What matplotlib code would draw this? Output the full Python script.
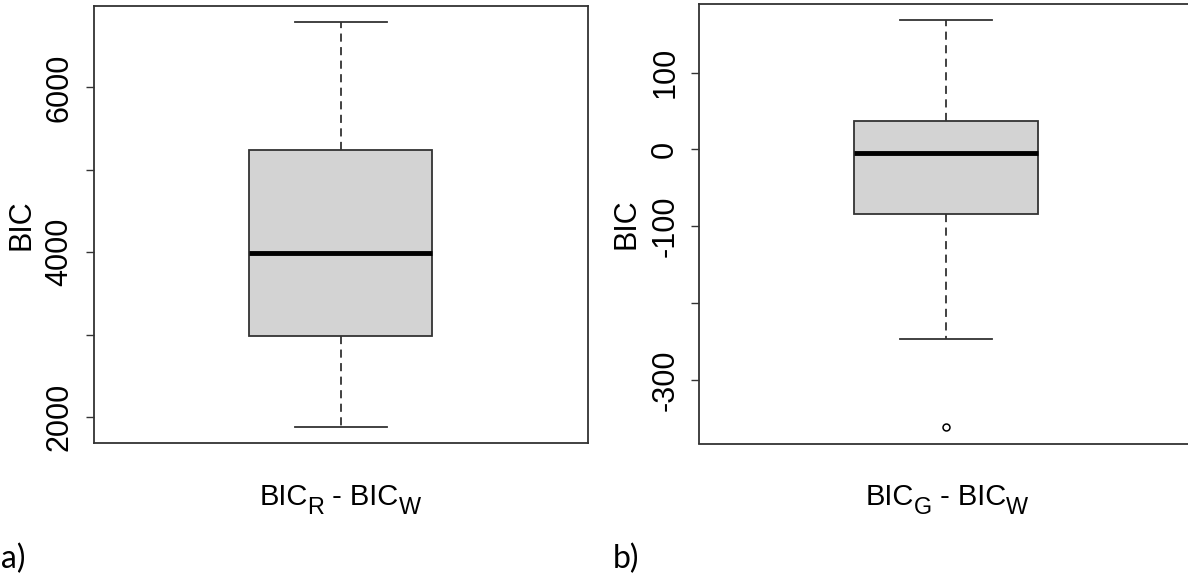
"""Two R-style boxplots of BIC differences (panels a and b)."""

import matplotlib

matplotlib.use("Agg")
import matplotlib.pyplot as plt

# panel a: BIC_R - BIC_W
A_Q1 = 2976
A_MED = 3988
A_Q3 = 5236
A_WHISLO = 1876
A_WHISHI = 6795
A_FLIERS = []
A_TICKS = [2000, 3000, 4000, 5000, 6000]
A_TICKLABELS = ["2000", "", "4000", "", "6000"]
A_XLABEL = [("BIC", False), ("R", True), (" - BIC", False), ("W", True)]

# panel b: BIC_G - BIC_W
B_Q1 = -83.7
B_MED = -4.3
B_Q3 = 37.6
B_WHISLO = -246.3
B_WHISHI = 168
B_FLIERS = [-361.4]
B_TICKS = [100, 0, -100, -200, -300]
B_TICKLABELS = ["100", "0", "-100", "", "-300"]
B_XLABEL = [("BIC", False), ("G", True), (" - BIC", False), ("W", True)]

W, H = 1188, 575
DPI = 100
LINE = "#333333"
FS = 22

plt.rcParams["font.family"] = ["Liberation Sans", "DejaVu Sans"]


def xlabel_pieces(fig, cx, base_px, pieces, size):
    """Centred label made of text and subscript pieces, in figure pixels."""
    r = fig.canvas.get_renderer()
    texts = []
    for s, sub in pieces:
        t = fig.text(0, 0, s, fontsize=size * (0.8 if sub else 1.0),
                     ha="left", va="baseline", transform=None)
        texts.append((t, sub))
    widths = [t.get_window_extent(r).width for t, _ in texts]
    # spaces at the end of a piece are not measured; handled by leading space
    x = cx - sum(widths) / 2
    for (t, sub), w in zip(texts, widths):
        y = H - base_px - (9 if sub else 0)
        t.set_position((x, y))
        x += w


def draw_panel(ax, stats, ticks, ticklabels, ylim):
    ax.bxp(
        [stats],
        positions=[1],
        widths=0.372,
        capwidths=0.186,
        patch_artist=True,
        boxprops=dict(facecolor="#d3d3d3", edgecolor=LINE, linewidth=1.3),
        medianprops=dict(color="black", linewidth=3.5, solid_capstyle="butt"),
        whiskerprops=dict(color=LINE, linewidth=1.3, linestyle=(0, (4.5, 3))),
        capprops=dict(color=LINE, linewidth=1.3),
        flierprops=dict(marker="o", markersize=5, markerfacecolor="none",
                        markeredgecolor="black", markeredgewidth=1.1),
    )
    ax.set_xlim(0.5, 1.5)
    ax.set_ylim(*ylim)
    ax.set_xticks([])
    ax.set_yticks(ticks)
    ax.set_yticklabels(ticklabels)
    ax.tick_params(axis="y", labelrotation=90, length=5.8, width=1.0,
                   color=LINE, pad=8, labelsize=FS)
    for lab in ax.get_yticklabels():
        lab.set_verticalalignment("center")
    for sp in ax.spines.values():
        sp.set_color(LINE)
        sp.set_linewidth(1.3)
    ax.set_ylabel("BIC", fontsize=FS, labelpad=6)


fig = plt.figure(figsize=(W / DPI, H / DPI), dpi=DPI)
ax_a = fig.add_axes([93.8 / W, 1 - 443.3 / H, 493.7 / W, 437.5 / H])
ax_b = fig.add_axes([699.4 / W, 1 - 443.5 / H, 493.7 / W, 439.5 / H])

stats_a = dict(med=A_MED, q1=A_Q1, q3=A_Q3, whislo=A_WHISLO, whishi=A_WHISHI,
               fliers=A_FLIERS)
stats_b = dict(med=B_MED, q1=B_Q1, q3=B_Q3, whislo=B_WHISLO, whishi=B_WHISHI,
               fliers=B_FLIERS)

draw_panel(ax_a, stats_a, A_TICKS, A_TICKLABELS, (1679, 6992))
draw_panel(ax_b, stats_b, B_TICKS, B_TICKLABELS, (-382.6, 189.2))

xlabel_pieces(fig, 340, 505, A_XLABEL, 21)
xlabel_pieces(fig, 947, 505, B_XLABEL, 21)

fig.text(1 / W, 1 - 568 / H, "a)", fontsize=23, family=["Lato", "DejaVu Sans"],
         va="baseline", ha="left")
fig.text(613 / W, 1 - 568 / H, "b)", fontsize=23, family=["Lato", "DejaVu Sans"],
         va="baseline", ha="left")

fig.savefig("out.png", dpi=DPI)
